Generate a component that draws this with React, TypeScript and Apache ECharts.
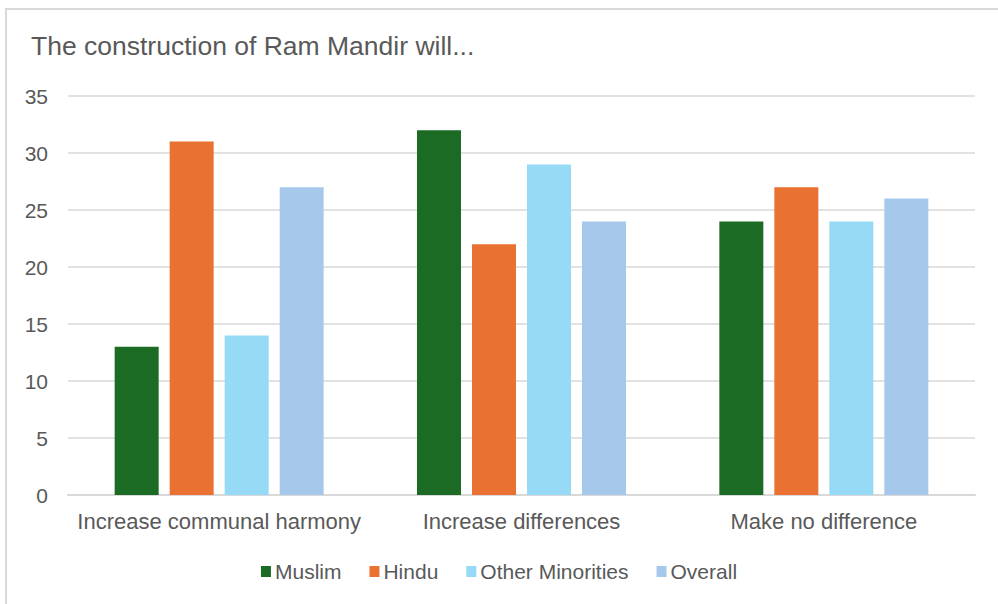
import React, { useEffect, useRef } from "react";
import * as echarts from "echarts";

const categories = ["Increase communal harmony", "Increase differences", "Make no difference"];
const seriesNames = ["Muslim", "Hindu", "Other Minorities", "Overall"];
const muslim = [13, 32, 24];
const hindu = [31, 22, 27];
const otherMinorities = [14, 29, 24];
const overall = [27, 24, 26];
const colors = ["#1b6b24", "#e97132", "#97daf6", "#a6c9eb"];
const yTicks = { min: 0, max: 35, interval: 5 };

export default function App() {
  const ref = useRef<HTMLDivElement>(null);

  useEffect(() => {
    if (!ref.current) return;
    const chart = echarts.init(ref.current, undefined, { renderer: "svg" });
    const values = [muslim, hindu, otherMinorities, overall];
    const font = "'Liberation Sans', Arial, sans-serif";
    chart.setOption({
      animation: false,
      backgroundColor: "#ffffff",
      textStyle: { fontFamily: font },
      graphic: [
        {
          type: "rect",
          shape: { x: 6, y: 9, width: 1000, height: 600 },
          style: { fill: "none", stroke: "#d9d9d9", lineWidth: 2 },
          silent: true,
        },
      ],
      title: {
        text: "The construction of Ram Mandir will...",
        left: 26,
        top: 27,
        textStyle: { fontFamily: font, fontSize: 26.5, fontWeight: "normal", color: "#595959" },
      },
      legend: {
        data: seriesNames,
        bottom: 17,
        left: "center",
        itemWidth: 10,
        itemHeight: 11,
        itemGap: 28,
        icon: "rect",
        textStyle: { fontFamily: font, fontSize: 21, color: "#595959", padding: [0, 0, 0, -1] },
      },
      grid: { left: 68, right: 23, top: 96, bottom: 109, containLabel: false },
      xAxis: {
        type: "category",
        data: categories,
        axisLine: { show: true, lineStyle: { color: "#d9d9d9", width: 2 } },
        axisTick: { show: false },
        axisLabel: {
          interval: 0,
          hideOverlap: false,
          fontFamily: font,
          fontSize: 22,
          color: "#595959",
          margin: 15,
        },
      },
      yAxis: {
        type: "value",
        min: yTicks.min,
        max: yTicks.max,
        interval: yTicks.interval,
        axisLine: { show: false },
        axisTick: { show: false },
        axisLabel: { fontFamily: font, fontSize: 21, color: "#595959", margin: 20 },
        splitLine: { lineStyle: { color: "#d9d9d9", width: 1.5 } },
      },
      series: seriesNames.map((name, i) => ({
        name,
        type: "bar",
        data: values[i],
        barWidth: 44,
        barGap: "25%",
        itemStyle: { color: colors[i] },
      })),
    });
    return () => chart.dispose();
  }, []);

  return <div ref={ref} style={{ width: 998, height: 604, position: "absolute", left: 0, top: 0 }} />;
}
